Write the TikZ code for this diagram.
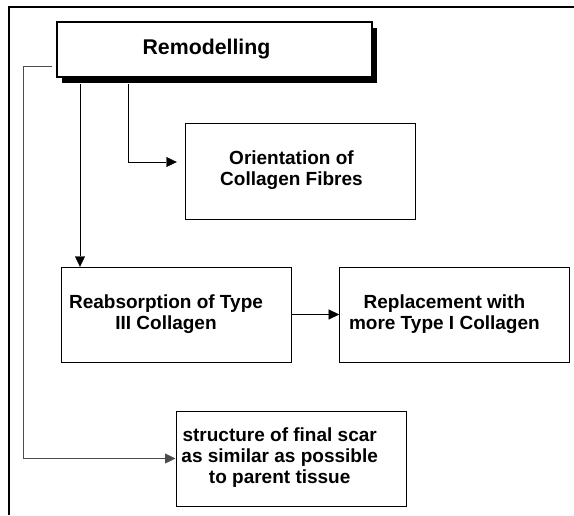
\documentclass[tikz,border=0pt]{standalone}
\usepackage{fontspec}
\setmainfont{Liberation Sans}
\usepackage{tikz}
\usetikzlibrary{arrows.meta, positioning, shadows}

\newcommand{\boxtext}[2][20pt]{\begin{tabular}{@{}c@{}}#2\end{tabular}\hspace*{#1}}

\begin{document}
\begin{tikzpicture}[x=1pt, y=-1pt, ->, >={Triangle[length=10.5pt, width=10pt]}]
    \tikzstyle{stage} = [draw, thin, minimum width=230pt, minimum height=95pt, inner sep=0pt, font=\fontsize{19}{21}\selectfont\bfseries]
    \tikzstyle{head} = [draw, line width=1.3pt, fill=white, minimum width=315pt, minimum height=55pt, font=\fontsize{21.3}{24}\selectfont\bfseries, drop shadow={shadow xshift=5pt, shadow yshift=-6pt, fill=black, opacity=1}]
    \useasboundingbox (0,0) rectangle (574,515);
    % frame
    \draw[-, line width=1.3pt] (9,515) -- (9,7) -- (574,7);
    \node [head] at (214.5,49.5) (remod) {\boxtext[16pt]{Remodelling}};
    \node [stage, minimum height=96pt] at (300,171) (orient) {\boxtext[17pt]{Orientation of\\Collagen Fibres}};
    \node [stage] at (176,314.5) (reab) {\boxtext{Reabsorption of Type\\III Collagen}};
    \node [stage, right=48pt of reab] (repl) {\boxtext{Replacement with\\more Type I Collagen}};
    \node [stage] at (290.7,458.5) (scar) {\boxtext[22pt]{structure of final scar\\as similar as possible\\to parent tissue}};
    \coordinate (lstart) at (52,66);
    \coordinate (rail) at (23,0);
    \draw (128,84) |- ([xshift=-8pt, yshift=9pt]orient.west);
    \draw (80,84) -- (reab.north -| 80,0);
    \draw (reab.east) to (repl.west);
    \draw[gray!60!black] (lstart) -| (rail |- scar.west) -- (scar.west);
\end{tikzpicture}
\end{document}
